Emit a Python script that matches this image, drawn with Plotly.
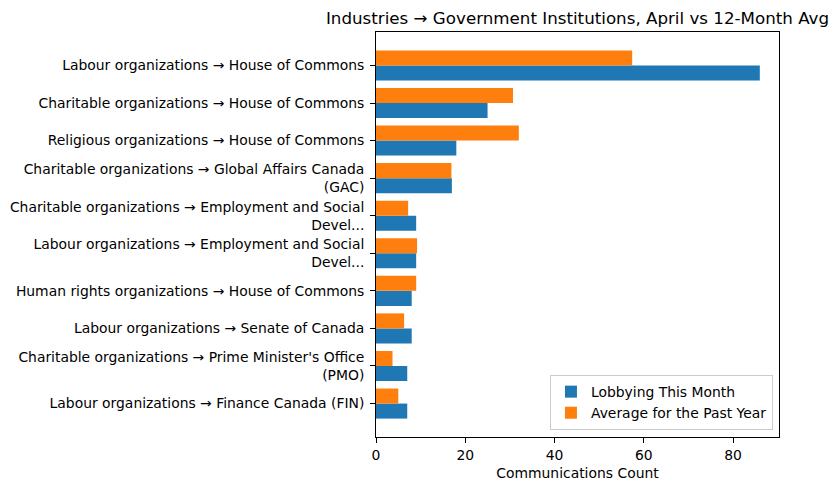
import plotly.graph_objects as go

categories = [
    "Labour organizations → House of Commons",
    "Charitable organizations → House of Commons",
    "Religious organizations → House of Commons",
    "Charitable organizations → Global Affairs Canada<br>(GAC)",
    "Charitable organizations → Employment and Social<br>Devel...",
    "Labour organizations → Employment and Social<br>Devel...",
    "Human rights organizations → House of Commons",
    "Labour organizations → Senate of Canada",
    "Charitable organizations → Prime Minister's Office<br>(PMO)",
    "Labour organizations → Finance Canada (FIN)",
]
this_month = [86, 25, 18, 17, 9, 9, 8, 8, 7, 7]
avg_past_year = [57.4, 30.7, 32.0, 16.9, 7.2, 9.2, 9.0, 6.3, 3.7, 5.0]

# plot bottom-to-top so the first category is at the top
cats_r = categories[::-1]
tm_r = this_month[::-1]
avg_r = avg_past_year[::-1]

FONT = "DejaVu Sans"
fig = go.Figure()
fig.add_trace(go.Bar(y=cats_r, x=tm_r, orientation="h", name="Lobbying This Month",
                     marker=dict(color="#1f77b4", line=dict(width=0))))
fig.add_trace(go.Bar(y=cats_r, x=avg_r, orientation="h", name="Average for the Past Year",
                     marker=dict(color="#ff7f0e", line=dict(width=0))))

xmax = max(max(this_month), max(avg_past_year)) * 1.05
n = len(categories)
# page body has an 8px margin, so the figure is 8px smaller and offset accordingly
fig.update_layout(
    width=829, height=482,
    barmode="group", bargap=0.2, bargroupgap=0,
    plot_bgcolor="white", paper_bgcolor="white",
    font=dict(family=FONT, size=13.9, color="black"),
    margin=dict(l=367.5, r=57.5, t=24, b=53, autoexpand=False),
    title=dict(text="Industries → Government Institutions, April vs 12-Month Avg",
               x=0.5, xref="paper", xanchor="center", y=0.978, yref="container",
               yanchor="middle", font=dict(size=16.7, family=FONT)),
    showlegend=True,
    legend=dict(x=0.985, y=0.017, xanchor="right", yanchor="bottom",
                bgcolor="rgba(255,255,255,0.8)", bordercolor="#cccccc", borderwidth=1,
                font=dict(size=13.9), traceorder="normal"),
    xaxis=dict(range=[0, xmax], showgrid=False, zeroline=False, showline=True,
               linecolor="black", linewidth=1, mirror=True, ticks="outside",
               ticklen=4.9, tickwidth=1, tickcolor="black", tickvals=[0, 20, 40, 60, 80],
               automargin=False,
               title=dict(text="Communications Count", font=dict(size=13.9), standoff=6)),
    yaxis=dict(range=[-0.89, n - 1 + 0.89], showgrid=False, zeroline=False, showline=True,
               linecolor="black", linewidth=1, mirror=True, ticks="outside",
               ticklen=4.9, tickwidth=1, tickcolor="black", automargin=False,
               ticklabelstandoff=3),
)
fig.write_html("out.html")
